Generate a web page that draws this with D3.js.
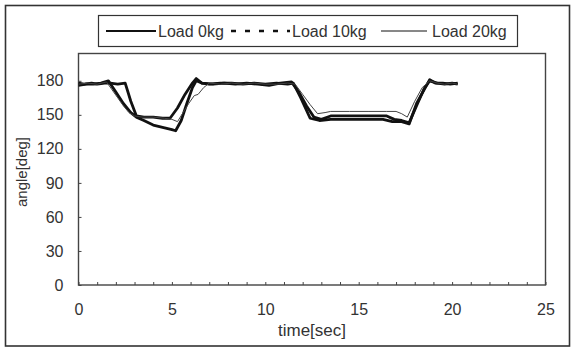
<!DOCTYPE html>
<html>
<head>
<meta charset="utf-8">
<script src="https://cdn.jsdelivr.net/npm/d3@7"></script>
<style>
  body { margin: 0; background: #fff; }
  svg text { font-family: "Liberation Sans", Arial, sans-serif; fill: #333; }
</style>
</head>
<body>
<div id="graphic"></div>
<script>
// data: time (sec) and angle (deg) per load
const seriesNames = ["Load 0kg", "Load 10kg", "Load 20kg"];

const time0 = [0,0.3,0.7,1.0,1.4,1.7,2.1,2.5,2.8,3.1,3.5,4.0,4.5,4.9,5.3,5.7,6.1,6.3,6.6,7.0,7.6,8.2,8.8,9.4,10.0,10.6,11.2,11.5,11.9,12.4,12.9,13.5,14.5,15.5,16.3,16.8,17.3,17.7,18.1,18.5,18.8,19.1,19.5,19.9,20.3];
const load0 = [178,177,178,177,178,178,177,178,162,149,148,148,147,147,156,168,178,182,178,177,178,178,177,178,177,178,177,178,165,147,145,146,146,146,146,144,144,142,160,172,181,178,178,177,178];

const time1 = [0,0.4,0.8,1.2,1.6,2.0,2.4,2.8,3.1,3.5,4.0,4.5,5.0,5.2,5.5,5.8,6.1,6.3,6.6,7.2,7.8,8.4,9.0,9.6,10.2,10.8,11.4,11.8,12.2,12.6,13.0,13.5,14.5,15.5,16.5,16.9,17.3,17.7,18.1,18.5,18.8,19.2,19.6,20.0,20.3];
const load1 = [176,177,177,178,180,170,160,152,148,145,141,139,137,136,145,160,174,180,178,177,178,177,178,177,176,178,179,170,158,148,146,149,149,149,149,146,145,143,158,173,180,178,177,178,177];

const time2 = [0,0.5,1.0,1.5,1.8,2.1,2.4,2.7,3.0,3.4,4.0,4.6,5.0,5.3,5.6,5.9,6.2,6.4,6.7,7.0,7.6,8.2,8.8,9.4,10.0,10.6,11.2,11.6,12.0,12.4,12.8,13.2,13.5,14.5,15.5,16.5,17.0,17.3,17.6,18.0,18.4,18.8,19.2,19.6,20.0,20.3];
const load2 = [177,178,177,179,172,165,158,152,149,148,148,147,146,144,152,160,167,168,174,178,177,178,177,178,177,177,178,177,168,159,151,152,153,153,153,153,153,151,148,162,174,180,178,177,178,177];

const xTicks = [0,5,10,15,20,25];
const yTicks = [0,30,60,90,120,150,180];

const W = 575, H = 349;
const plot = {left: 78.5, right: 545.5, top: 53.5, bottom: 285};

var svg = d3.select("#graphic").append("svg")
    .attr("width", W)
    .attr("height", H);

svg.append("rect").attr("width", W).attr("height", H).attr("fill", "#fff");

// outer frame
svg.append("rect")
    .attr("x", 5.5).attr("y", 5.5)
    .attr("width", 564).attr("height", 340.5)
    .attr("fill", "none")
    .attr("stroke", "#333")
    .attr("stroke-width", 1.6);

var x = d3.scaleLinear().domain([0, 25]).range([plot.left, plot.right]);
var y = d3.scaleLinear().domain([0, 180]).range([plot.bottom, 80.8]);

// plot frame
svg.append("rect")
    .attr("x", plot.left).attr("y", plot.top)
    .attr("width", plot.right - plot.left)
    .attr("height", plot.bottom - plot.top)
    .attr("fill", "none")
    .attr("stroke", "#444")
    .attr("stroke-width", 1.4);

var xAxis = d3.axisBottom(x)
    .tickValues(d3.range(0, 26, 1))
    .tickFormat(d => xTicks.includes(d) ? d : "")
    .tickSizeInner(-3).tickSizeOuter(0)
    .tickPadding(19);

var yAxis = d3.axisLeft(y)
    .tickValues(yTicks)
    .tickSizeInner(-3).tickSizeOuter(0)
    .tickPadding(15);

svg.append("g")
    .attr("transform", `translate(0,${plot.bottom})`)
    .call(xAxis)
    .call(g => g.select(".domain").remove())
    .call(g => g.selectAll(".tick line").attr("stroke", "#444"))
    .call(g => g.selectAll(".tick text").style("font-size", "16px"));

svg.append("g")
    .attr("transform", `translate(${plot.left},0)`)
    .call(yAxis)
    .call(g => g.select(".domain").remove())
    .call(g => g.selectAll(".tick line").attr("stroke", "#444"))
    .call(g => g.selectAll(".tick text").style("font-size", "16px"));

// axis titles
svg.append("text")
    .attr("x", 312).attr("y", 336)
    .attr("text-anchor", "middle")
    .style("font-size", "17px")
    .text("time[sec]");

svg.append("text")
    .attr("transform", "translate(27,172) rotate(-90)")
    .attr("text-anchor", "middle")
    .style("font-size", "15px")
    .text("angle[deg]");

// series
var line = d3.line()
    .x(d => x(d[0]))
    .y(d => y(d[1]));

const series = [
    {t: time0, v: load0, width: 2.8, color: "#111"},
    {t: time1, v: load1, width: 2.8, color: "#111"},
    {t: time2, v: load2, width: 1, color: "#444"}
];

svg.selectAll(".series")
    .data(series)
    .enter()
    .append("path")
    .attr("class", "series")
    .attr("d", s => line(s.t.map((t, i) => [t, s.v[i]])))
    .attr("fill", "none")
    .attr("stroke", s => s.color)
    .attr("stroke-width", s => s.width)
    .attr("stroke-linejoin", "round");

// legend
var legend = svg.append("g");
legend.append("rect")
    .attr("x", 98.5).attr("y", 15.5)
    .attr("width", 419).attr("height", 31)
    .attr("fill", "#fff")
    .attr("stroke", "#333")
    .attr("stroke-width", 1.2);

const legendItems = [
    {x1: 106, x2: 156, tx: 158, width: 2.2, dash: null},
    {x1: 231, x2: 290, tx: 292, width: 2.6, dash: "5,9"},
    {x1: 381, x2: 427, tx: 432, width: 1, dash: null}
];

legendItems.forEach((it, i) => {
    legend.append("line")
        .attr("x1", it.x1).attr("x2", it.x2)
        .attr("y1", 31).attr("y2", 31)
        .attr("stroke", "#111")
        .attr("stroke-width", it.width)
        .attr("stroke-dasharray", it.dash);
    legend.append("text")
        .attr("x", it.tx).attr("y", 37)
        .style("font-size", "16px")
        .text(seriesNames[i]);
});
</script>
</body>
</html>
